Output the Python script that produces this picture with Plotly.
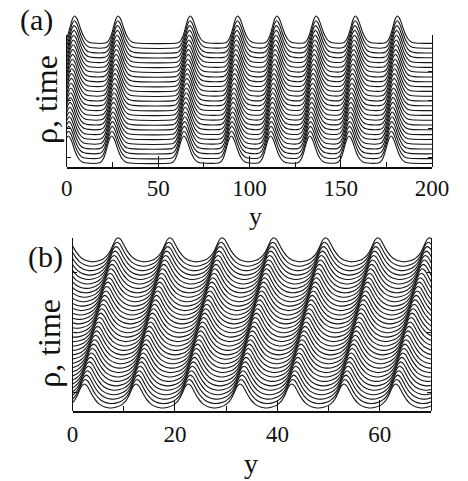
import plotly.graph_objects as go

W, H = 468, 481

# ---------------- data ----------------
# panel (a): peak positions along y of the latest (top) profile
a_peak_y = [4.2, 28.0, 67.5, 93.5, 115.0, 136.5, 158.0, 181.0]
a_n_times = 26          # number of stacked profiles
a_drift = 0.14          # peak shift (in y) per time step
# shape of one density peak: offset from peak centre -> rho (normalised)
a_pulse_dy = [-7, -6, -5, -4, -3, -2, -1, 0, 1, 2, 3, 4, 5, 6, 7, 8, 10]
a_pulse_rho = [0, 0.03, 0.1, 0.24, 0.45, 0.7, 0.91, 1.0,
               0.94, 0.79, 0.59, 0.4, 0.25, 0.14, 0.07, 0.03, 0]
a_xrange = [0, 200]
a_xticks = [0, 50, 100, 150, 200]
a_xlabels = ["0", "50", "100", "150", "200"]

# panel (b): travelling wave, peak positions of the latest (top) profile
b_peak_y = [-1.2, 8.9, 19.0, 29.2, 39.3, 49.4, 59.6, 69.7, 79.8]
b_n_times = 34
b_drift = 0.2
b_pulse_dy = [-4.9, -4, -3, -2.5, -2, -1.5, -1, -0.5, 0, 0.5, 1, 1.5, 2, 2.5, 3, 4, 4.9]
b_pulse_rho = [0, 0.03, 0.11, 0.19, 0.30, 0.47, 0.70, 0.92, 1.0,
               0.93, 0.75, 0.55, 0.38, 0.25, 0.15, 0.04, 0]
b_xrange = [0, 70]
b_xticks = [0, 20, 40, 60]
b_xlabels = ["0", "20", "40", "60"]

# ---------------- layout geometry (pixels) ----------------
A = dict(left=64, right=448, bottom=167, top=10, frame_top=35, step=4.8, base=4, amp=27,
         yticks_px=[43, 71.5, 100, 128.5, 157], minor=25, majlen=11, standoff=0)
B = dict(left=70, right=447, bottom=411, top=232, frame_top=238, step=4.43, base=3, amp=24,
         yticks_px=[272, 332, 392], minor=10, majlen=11, standoff=2)

FONT = "Liberation Serif, Times New Roman, serif"
fig = go.Figure()


def add_panel(P, peaks, n, drift, pdy, prho, xr, xax, yax, yframe):
    gain = P["amp"] / P["step"]
    for k in range(n):
        shift = (n - 1 - k) * drift
        xs = [xr[0] - 20]
        ys = [k]
        for p in peaks:
            for d, r in zip(pdy, prho):
                xs.append(p - shift + d)
                ys.append(k + gain * r)
        xs.append(xr[1] + 20)
        ys.append(k)
        fig.add_trace(go.Scatter(x=xs, y=ys, mode="lines", xaxis=xax, yaxis=yax,
                                 line=dict(color="#151515", width=1.1, shape="spline", smoothing=1.0),
                                 showlegend=False, hoverinfo="skip"))
    # dummy trace to create the frame subplot
    fig.add_trace(go.Scatter(x=[None], y=[None], xaxis=xax, yaxis=yframe,
                             showlegend=False, hoverinfo="skip"))


add_panel(A, a_peak_y, a_n_times, a_drift, a_pulse_dy, a_pulse_rho, a_xrange, "x", "y", "y3")
add_panel(B, b_peak_y, b_n_times, b_drift, b_pulse_dy, b_pulse_rho, b_xrange, "x2", "y2", "y4")


def ydom(P, top_key):
    return [(H - P["bottom"]) / H, (H - P[top_key]) / H]


def yrange(P):
    lo = -P["base"] / P["step"]
    hi = (P["bottom"] - P["base"] - P["top"]) / P["step"]
    return [lo, hi]


def xaxis_cfg(P, xr, tv, tt, anchor):
    return dict(domain=[P["left"] / W, P["right"] / W], range=xr, anchor=anchor,
                showline=True, linecolor="#111", linewidth=1.6, showgrid=False, zeroline=False,
                ticks="inside", ticklen=P["majlen"], tickwidth=1, tickcolor="#111",
                tickvals=tv, ticktext=tt, ticklabelstandoff=P["standoff"],
                minor=dict(ticks="inside", ticklen=5, tickwidth=1, tickcolor="#111",
                           dtick=P["minor"], tick0=0, showgrid=False),
                tickfont=dict(family=FONT, size=23, color="#111"))


def yframe_cfg(P, anchor):
    span = P["bottom"] - P["frame_top"]
    return dict(domain=ydom(P, "frame_top"), range=[0, span], anchor=anchor,
                showline=True, linecolor="#111", linewidth=1, mirror="ticks",
                ticks="inside", ticklen=4, tickwidth=1, tickcolor="#111",
                tickvals=[P["bottom"] - t for t in P["yticks_px"]], showticklabels=False,
                showgrid=False, zeroline=False)


def ydata_cfg(P, anchor):
    return dict(domain=ydom(P, "top"), range=yrange(P), anchor=anchor, visible=False,
                showgrid=False, zeroline=False)


fig.update_layout(
    width=W, height=H, margin=dict(l=0, r=0, t=0, b=0),
    paper_bgcolor="white", plot_bgcolor="rgba(0,0,0,0)",
    xaxis=xaxis_cfg(A, a_xrange, a_xticks, a_xlabels, "y"),
    xaxis2=xaxis_cfg(B, b_xrange, b_xticks, b_xlabels, "y2"),
    yaxis=ydata_cfg(A, "x"),
    yaxis2=ydata_cfg(B, "x2"),
    yaxis3=yframe_cfg(A, "x"),
    yaxis4=yframe_cfg(B, "x2"),
)


def ann(text, x, y, size, angle=0):
    fig.add_annotation(text=text, x=x / W, y=1 - y / H, xref="paper", yref="paper",
                       showarrow=False, textangle=angle, xanchor="center", yanchor="middle",
                       font=dict(family=FONT, size=size, color="#111"))


ann("(a)", 32, 20, 30)
ann("(b)", 42, 257, 30)
ann("ρ, time", 42, 99, 32, -90)
ann("ρ, time", 45, 343, 32, -90)
ann("y", 262, 217, 26)
ann("y", 258, 463, 28)

fig.write_html("out.html")
